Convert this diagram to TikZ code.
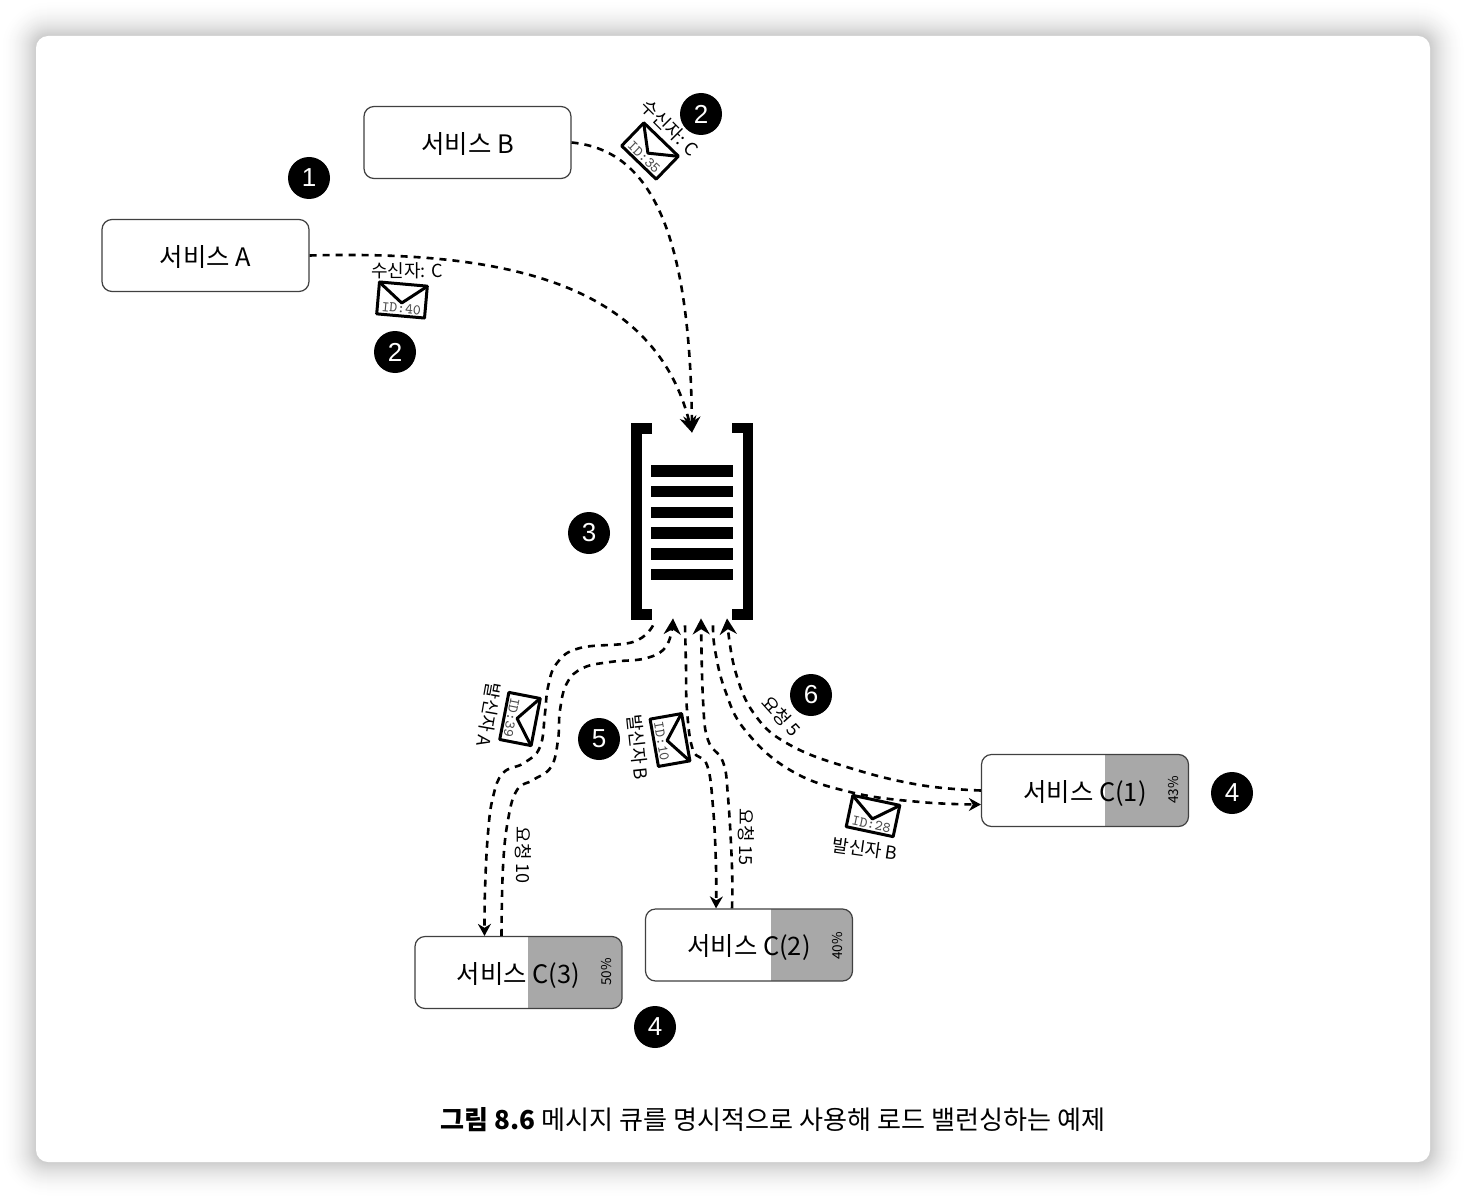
\documentclass[tikz,border=0pt]{standalone}
\usepackage{fontspec}
\usepackage{xcolor}
\usepackage{tikz}
\usetikzlibrary{positioning,arrows.meta}
\setmainfont{Noto Sans CJK KR}
\newfontfamily\badgefont{Liberation Sans}
\definecolor{loadgray}{RGB}{168,168,168}
\tikzset{
  envelope/.pic={
    \draw[envline] (-24,-16) rectangle (24,16);
    \draw[envline] (-23,-15) -- (0,3) -- (23,-15);
    \node[envid] at (0,8.5) {#1};
  }
}

\begin{document}
\begin{tikzpicture}[
  x=0.5pt, y=-0.5pt,
  svc/.style={rectangle, draw=black!75, line width=0.6pt, rounded corners=5pt, fill=white,
    minimum width=103.5pt, minimum height=36pt, inner sep=0pt, text depth=0pt, font=\fontsize{12.7}{14}\selectfont},
  loadsvc/.style={svc, path picture={\fill[loadgray, sharp corners] ([xshift=-#1pt]path picture bounding box.north east) rectangle (path picture bounding box.south east);}},
  badge/.style={circle, fill=black, text=white, minimum size=21pt, inner sep=0pt, font=\badgefont\fontsize{13}{14}\selectfont},
  tag/.style={inner sep=0pt, font=\fontsize{9}{10}\selectfont},
  pct/.style={inner sep=0pt, rotate=90, font=\fontsize{6.8}{8}\selectfont},
  envline/.style={draw=black, line width=1.5pt, line join=round},
  envid/.style={transform shape, inner sep=0pt, text=black!70, font=\ttfamily\fontsize{7.4}{8}\selectfont},
  flow/.style={line width=1.3pt, dash pattern=on 3.5pt off 3pt},
  arrow/.style={flow, -{Stealth[length=8pt,width=8.5pt]}},
  arrowin/.style={flow, -{Stealth[length=6pt,width=6.5pt]}},
  bracket/.style={draw=black, line width=5.3pt, miter limit=10},
  bar/.style={fill=black}
]
  % Card and shadow
  \useasboundingbox (0,0) rectangle (1466,1198);
  \fill[white] (0,0) rectangle (1466,1198);
  \foreach \i in {36,35,...,1} {
    \pgfmathsetmacro{\lvl}{100*(1-0.2*(1-\i/37)^2)}
    \pgfmathsetmacro{\rad}{6+\i*0.5}
    \fill[fill=white!\lvl!black, rounded corners=\rad pt]
      (36-\i,36-\i) rectangle (1430+\i,1162+\i);
  }
  \fill[white, rounded corners=6pt] (36,36) rectangle (1430,1162);

  % Services
  \node[svc] (svca) at (205.5,255.5) {서비스 A};
  \node[svc] (svcb) at (467.5,142.5) {서비스 B};
  \node[loadsvc=42] (svcc1) at (1085,790.5) {서비스 C(1)};
  \node[loadsvc=41] (svcc2) at (749,945) {서비스 C(2)};
  \node[loadsvc=47] (svcc3) at (518.5,972.5) {서비스 C(3)};
  \node[pct] (pct1) at (1173,790) {43\%};
  \node[pct] (pct2) at (838,946) {40\%};
  \node[pct] (pct3) at (607,972) {50\%};

  % Queue
  \node[minimum width=61pt, minimum height=99pt, inner sep=0pt] (queue) at (692,521) {};
  \draw[bracket] (652,428.5) -- (636.5,428.5) -- (636.5,614.5) -- (652,614.5);
  \draw[bracket] (732,428) -- (748,428) -- (748,614.5) -- (732,614.5);
  \foreach \k in {0,...,5} {
    \fill[bar] (651,465+20.75*\k) rectangle (733,476.5+20.75*\k);
  }

  % Badges
  \node[badge] (b1) at (309,178) {1};
  \node[badge] (b2a) at (701,114) {2};
  \node[badge] (b2b) at (395,352) {2};
  \node[badge] (b3) at (589,533) {3};
  \node[badge] (b4a) at (1232,793) {4};
  \node[badge] (b4b) at (655,1027) {4};
  \node[badge] (b5) at (599,739) {5};
  \node[badge] (b6) at (811,695) {6};

  % Edges
  \draw[arrow] (svca.east) .. controls (510,250) and (655,285) .. ([yshift=-5.5pt]queue.north);
  \draw[arrow] (svcb.east) .. controls (650,150) and (690,230) .. ([yshift=-5.5pt]queue.north);
  \draw[arrowin] plot[smooth, tension=0.7] coordinates {([xshift=-19.5pt,yshift=-2.5pt]queue.south) (633,642) (580,648) (557,663) (548,687) (545,713) (540,747) (524,763) (503,773) (493,797) (488,833) (485,890) ([xshift=-17pt]svcc3.north)};
  \draw[arrow] plot[smooth, tension=0.7] coordinates {([xshift=-8.5pt]svcc3.north) (503,867) (508,820) (517,790) (533,780) (551,767) (558,740) (560,710) (567,683) (583,668) (610,662) (647,658) (667,645) ([xshift=-9.5pt,yshift=1pt]queue.south)};
  \draw[arrowin] plot[smooth, tension=0.7] coordinates {([xshift=-3.5pt,yshift=-2.5pt]queue.south) (686,667) (687,710) (693,750) (707,765) (713,807) (716,867) ([xshift=-16.5pt]svcc2.north)};
  \draw[arrow] plot[smooth, tension=0.7] coordinates {([xshift=-8.5pt]svcc2.north) (732,867) (728,797) (723,762) (708,740) (703,700) ([xshift=4.5pt,yshift=1pt]queue.south)};
  \draw[arrowin] plot[smooth, tension=0.7] coordinates {([xshift=10.5pt,yshift=-2.5pt]queue.south) (715,650) (725,690) (745,730) (790,770) (850,792) (920,802) ([yshift=-7pt]svcc1.west)};
  \draw[arrow] plot[smooth, tension=0.7] coordinates {(svcc1.west) (920,785) (850,768) (790,745) (755,715) (735,670) ([xshift=17.5pt,yshift=1pt]queue.south)};

  % Envelopes
  \pic[rotate=-5] at (402,300) {envelope={ID:40}};
  \pic[rotate=-44] at (650,151) {envelope={ID:35}};
  \pic[rotate=-101] at (520,719) {envelope={ID:39}};
  \pic[rotate=-80] at (670,740) {envelope={ID:10}};
  \pic[rotate=-12] at (873,816) {envelope={ID:28}};

  % Labels
  \node[tag] (ta) at (407,271) {수신자: C};
  \node[tag, rotate=-45] (tb) at (670,128) {수신자: C};
  \node[tag, rotate=-100] (tc) at (489,715) {발신자 A};
  \node[tag, rotate=-84] (td) at (638,747) {발신자 B};
  \node[tag, rotate=-8] (te) at (865,849) {발신자 B};
  \node[tag, rotate=-90] (tf) at (523,855) {요청 10};
  \node[tag, rotate=-90] (tg) at (746,837) {요청 15};
  \node[tag, rotate=-48] (th) at (781,716) {요청 5};

  % Caption
  \node[inner sep=0pt, font=\fontsize{13.05}{15}\selectfont] (cap) at (773,1120) {\bfseries 그림 8.6 \mdseries 메시지 큐를 명시적으로 사용해 로드 밸런싱하는 예제};
\end{tikzpicture}
\end{document}
